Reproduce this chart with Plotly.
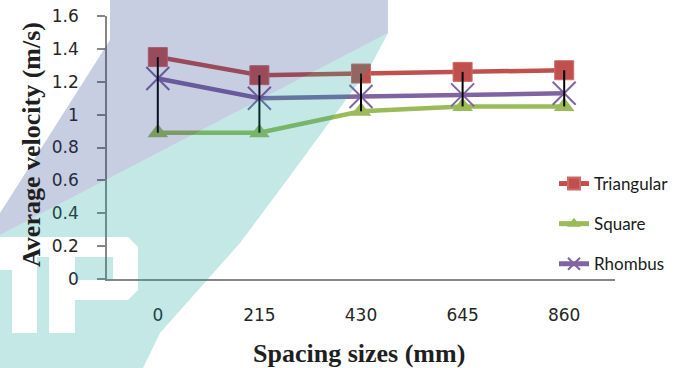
import plotly.graph_objects as go

# ---- data -------------------------------------------------------------
spacing_mm = ["0", "215", "430", "645", "860"]
triangular = [1.35, 1.24, 1.25, 1.26, 1.27]
square = [0.89, 0.89, 1.02, 1.05, 1.05]
rhombus = [1.22, 1.10, 1.11, 1.12, 1.13]

# ---- page geometry (pixels) -------------------------------------------
PAGE_W, PAGE_H = 683, 368
M_L, M_R, M_T, M_B = 107, 68, 16, 89
PLOT_W = PAGE_W - M_L - M_R
PLOT_H = PAGE_H - M_T - M_B


def px(x, y):
    """Page pixel -> paper coordinates."""
    return (x - M_L) / PLOT_W, (PAGE_H - M_B - y) / PLOT_H


def path(*polys):
    out = []
    for poly in polys:
        pts = [px(x, y) for x, y in poly]
        out.append("M" + "L".join(f"{a:.4f},{b:.4f}" for a, b in pts) + "Z")
    return " ".join(out)


# background watermark outlines (page pixels)
wm_blue = [(110, 0), (388, 0), (388, 33), (0, 235), (0, 213), (110, 40)]
wm_teal = [(0, 235), (388, 33), (370, 67), (287, 180), (240, 243),
           (160, 333), (143, 368), (0, 368)]
wm_letters = [(0, 237), (128, 237), (138, 247), (138, 290), (128, 300),
              (75, 300), (75, 333), (49, 333), (49, 257), (37, 257),
              (37, 333), (12, 333), (12, 270), (0, 270)]
wm_bowl = [(75, 257), (113, 257), (113, 280), (75, 280)]

RED, GREEN, PURPLE = "#C0504D", "#9BBB59", "#8064A2"

fig = go.Figure()

fig.add_trace(go.Scatter(
    x=spacing_mm, y=triangular, name="Triangular", mode="lines+markers",
    legendgroup="a",
    line=dict(color=RED, width=4.5),
    marker=dict(symbol="square", size=19, color=RED,
                line=dict(color="#cd6a67", width=1)),
))
fig.add_trace(go.Scatter(
    x=spacing_mm, y=square, name="Square", mode="lines+markers",
    legendgroup="b",
    line=dict(color=GREEN, width=4.5),
    marker=dict(symbol="triangle-up", size=18, color=GREEN),
))
fig.add_trace(go.Scatter(
    x=spacing_mm, y=rhombus, name="Rhombus", mode="lines+markers",
    legendgroup="c",
    line=dict(color=PURPLE, width=4.5),
    marker=dict(symbol="x-thin", size=23, color=PURPLE,
                line=dict(color=PURPLE, width=2)),
))

# high-low lines joining the highest and lowest series at each spacing
hl_x, hl_y = [], []
for i, cat in enumerate(spacing_mm):
    vals = [triangular[i], square[i], rhombus[i]]
    hl_x += [cat, cat, None]
    hl_y += [max(vals), min(vals), None]
fig.add_trace(go.Scatter(
    x=hl_x, y=hl_y, mode="lines", showlegend=False, hoverinfo="skip",
    line=dict(color="black", width=2),
))

AXIS_GREY = "#868686"
TICK_FONT = dict(family="DejaVu Sans", size=17, color="#262626")

fig.update_xaxes(
    type="category", range=[-0.5, 4.5], automargin=False,
    showline=True, linecolor=AXIS_GREY, linewidth=1.5,
    showgrid=False, zeroline=False, ticks="",
    tickfont=TICK_FONT, ticklabelstandoff=20,
)
fig.update_yaxes(
    range=[0, 1.6], dtick=0.2, automargin=False,
    showline=True, linecolor=AXIS_GREY, linewidth=1.5,
    showgrid=False, zeroline=False,
    ticks="outside", ticklen=8, tickcolor=AXIS_GREY, tickwidth=1.5,
    tickfont=TICK_FONT, ticklabelstandoff=15,
)

shapes = [
    dict(type="path", xref="paper", yref="paper", layer="above",
         path=path(wm_blue), fillcolor="#233b8b", opacity=0.25,
         line=dict(width=0)),
    dict(type="path", xref="paper", yref="paper", layer="above",
         path=path(wm_teal, wm_letters, wm_bowl), fillrule="evenodd",
         fillcolor="#14a49c", opacity=0.25, line=dict(width=0)),
]

title_font = dict(family="Liberation Serif", size=26, color="#1f1f1f")
tx, ty = px(359, 353)
yx, yy = px(31, 145)
annotations = [
    dict(text="<b>Spacing sizes (mm)</b>", xref="paper", yref="paper",
         x=tx, y=ty, xanchor="center", yanchor="middle", showarrow=False,
         font=title_font),
    dict(text="<b>Average velocity (m/s)</b>", xref="paper", yref="paper",
         x=yx, y=yy, xanchor="center", yanchor="middle", showarrow=False,
         textangle=-90, font=title_font),
]

lx, ly = px(554, 166)
fig.update_layout(
    width=PAGE_W, height=PAGE_H,
    margin=dict(l=M_L, r=M_R, t=M_T, b=M_B, autoexpand=False),
    paper_bgcolor="white", plot_bgcolor="white",
    shapes=shapes, annotations=annotations,
    legend=dict(
        x=lx, y=ly, xanchor="left", yanchor="top",
        traceorder="grouped", tracegroupgap=15,
        itemsizing="constant", bgcolor="rgba(0,0,0,0)",
        font=dict(family="Lato", size=17, color="#1a1a1a"),
    ),
)

fig.write_html("out.html")
